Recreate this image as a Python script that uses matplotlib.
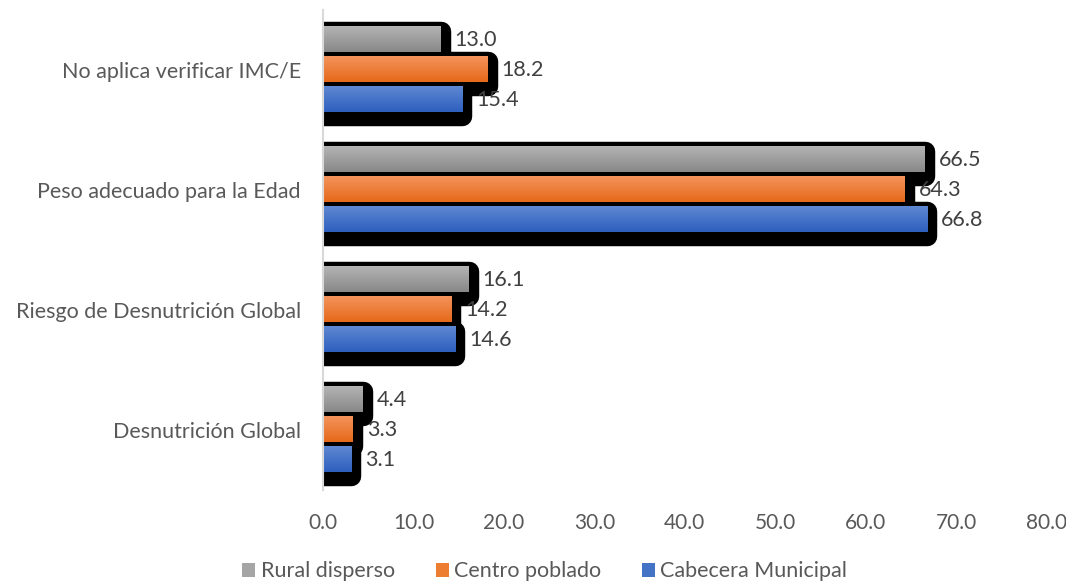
import matplotlib.pyplot as plt
import matplotlib.transforms as mtransforms
from matplotlib.colors import LinearSegmentedColormap
import numpy as np

plt.rcParams['font.family'] = ['Lato', 'DejaVu Sans']

# Data (categories bottom to top)
categories = ["Desnutrición Global", "Riesgo de Desnutrición Global",
              "Peso adecuado para la Edad", "No aplica verificar IMC/E"]
series = ["Rural disperso", "Centro poblado", "Cabecera Municipal"]
rural = [4.4, 16.1, 66.5, 13.0]
centro = [3.3, 14.2, 64.3, 18.2]
cabecera = [3.1, 14.6, 66.8, 15.4]
xticks = [0, 10, 20, 30, 40, 50, 60, 70, 80]

values = [rural, centro, cabecera]
offsets = [0.25, 0.0, -0.25]
# (top colour, bottom colour) for each series gradient
grads = [("#b4b4b4", "#888888"), ("#f4935c", "#e5691a"), ("#5f88d2", "#2e5fbf")]
solid = ["#a5a5a5", "#ed7d31", "#4472c4"]
text_col = "#595959"
fs = 15.5
h = 0.21

fig = plt.figure(figsize=(10.66, 5.83), dpi=100)
ax = fig.add_axes([0.303, 0.160, 0.679, 0.823])

y = np.arange(len(categories))
shift = mtransforms.ScaledTranslation(0, -4 / 100, fig.dpi_scale_trans)

# black shadows behind bars
for vals, off in zip(values, offsets):
    shadows = ax.barh(y + off, vals, height=h, color="black", edgecolor="black",
                      linewidth=14, zorder=1)
    for p in shadows:
        p.set_joinstyle("round")
        p.set_transform(ax.transData + shift)

# gradient bars
for vals, off, (c1, c2), name, sc in zip(values, offsets, grads, series, solid):
    cmap = LinearSegmentedColormap.from_list(name, [c1, c2])
    grad = np.linspace(0, 1, 64).reshape(-1, 1)
    for yi, v in zip(y, vals):
        yc = yi + off
        ax.imshow(grad, extent=(0, v, yc - h / 2, yc + h / 2), origin="upper",
                  aspect="auto", cmap=cmap, zorder=2, interpolation="bilinear")
        ax.annotate(f"{v:.1f}", (v, yc), xytext=(10, 0), textcoords="offset points",
                    va="center", ha="left", fontsize=fs, color="#404040", zorder=3)
    ax.barh([0], [0], color=sc, label=name)

ax.set_xlim(0, 80)
ax.set_ylim(-0.5, 3.5)
ax.set_xticks(xticks)
ax.set_xticklabels([f"{t:.1f}" for t in xticks])
ax.set_yticks(y)
ax.set_yticklabels(categories)
ax.tick_params(axis="both", length=0, labelsize=fs, colors=text_col)
ax.tick_params(axis="x", labelsize=15)
ax.tick_params(axis="y", pad=16)
ax.tick_params(axis="x", pad=17)
for s in ["top", "right", "bottom"]:
    ax.spines[s].set_visible(False)
ax.spines["left"].set_color("#d9d9d9")
ax.spines["left"].set_linewidth(1.5)
ax.spines["left"].set_zorder(4)

handles, labels = ax.get_legend_handles_labels()
fig.legend(handles, labels, loc="center", bbox_to_anchor=(0.511, 0.02), ncol=3,
           frameon=False, fontsize=fs, labelcolor=text_col, handlelength=0.6,
           handleheight=0.6, handletextpad=0.25, columnspacing=1.9)

fig.savefig("out.png", dpi=100)
